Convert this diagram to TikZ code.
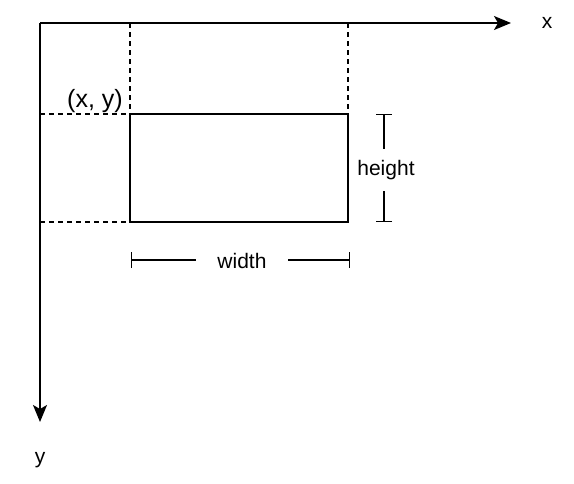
\documentclass[tikz,border=0pt]{standalone}
\usepackage{fontspec}
\setmainfont{Liberation Sans}
\usepackage{tikz}
\usetikzlibrary{arrows.meta}

\begin{document}
\begin{tikzpicture}[x=1pt, y=-1pt, line width=1.5pt,
  font=\fontsize{21}{25}\selectfont,
  axis/.style={-{Stealth[length=17pt, width=14pt, inset=4pt]}},
  guide/.style={line width=1.4pt, dash pattern=on 5pt off 4pt},
  dim/.style={{Bar[width=16pt]}-, line width=1.3pt}]
\useasboundingbox (0,0) rectangle (574,483);

% Nodos
\coordinate (o) at (40,23);
\coordinate (xend) at (511,23);
\coordinate (yend) at (40,422);
\coordinate (tl) at (130,114);
\coordinate (tr) at (348,114);
\coordinate (bl) at (130,222);
\coordinate (br) at (348,222);
\coordinate (tlx) at (130,23);
\coordinate (trx) at (348,23);
\coordinate (tly) at (40,114);
\coordinate (bly) at (40,222);

\node at (547,23) (nx) {x};
\node at (40,460) (ny) {y};
\node [font=\fontsize{25}{30}\selectfont] at (95,101) (nxy) {(x, y)};

\coordinate (ht) at (384,114);
\coordinate (hb) at (384,222);
\node [inner xsep=2pt, inner ysep=10pt] at (386,170) (nh) {height};

\coordinate (wl) at (131,260);
\coordinate (wr) at (350,260);
\node [inner xsep=21pt, inner ysep=2pt] at (242,261) (nw) {width};

% Conexiones
\draw[axis] (o) -- (xend);
\draw[axis] (o) -- (yend);

\draw (tl) rectangle (br);

\draw[guide] (tlx) -- (tl);
\draw[guide] (trx) -- (tr);
\draw[guide] (tly) -- (tl);
\draw[guide] (bly) -- (bl);

\draw[dim] (ht) -- (ht |- nh.north);
\draw[dim] (hb) -- (hb |- nh.south);
\draw[dim] (wl) -- (nw.west |- wl);
\draw[dim] (wr) -- (nw.east |- wr);

\end{tikzpicture}
\end{document}
